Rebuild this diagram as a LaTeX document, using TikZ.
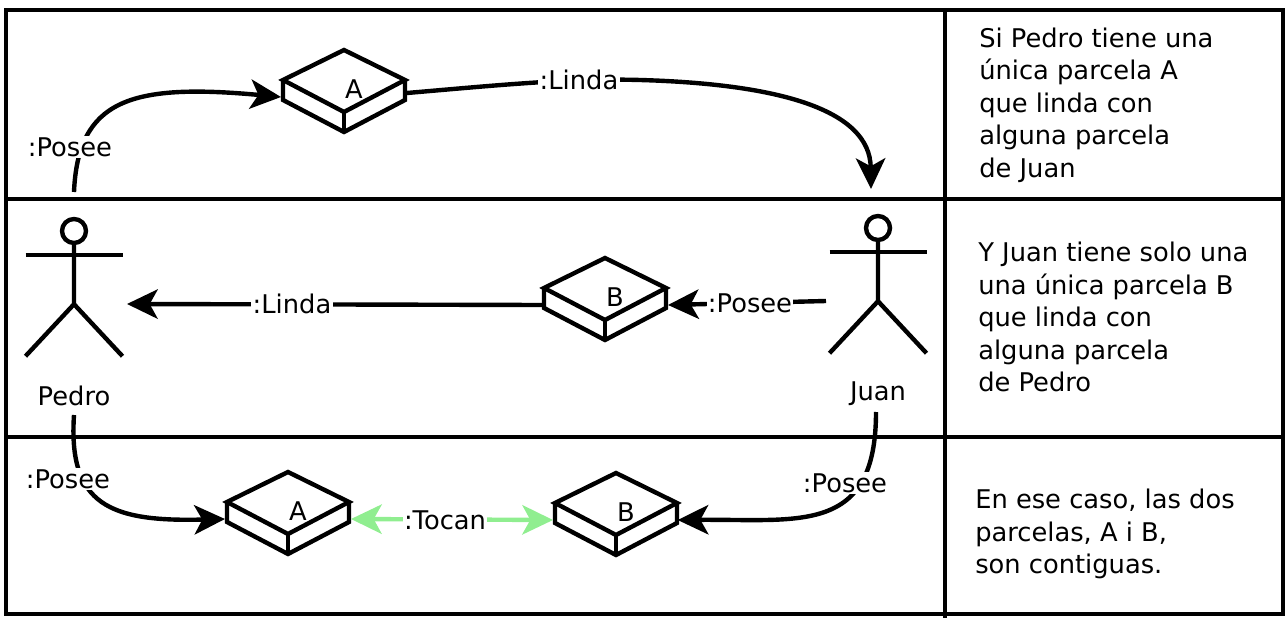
\documentclass[tikz,border=0pt]{standalone}
\usepackage{fontspec}
\setmainfont{DejaVu Sans}
\usetikzlibrary{arrows.meta}
\tikzset{
	marco/.style={line width=3.3pt},
	flecha/.style={line width=3.3pt, -{Stealth[length=23pt, width=22pt, inset=6pt]}},
	trazo/.style={line width=3.3pt},
	tocan/.style={line width=3.3pt, color=verdeclaro, {Stealth[length=23pt, width=22pt, inset=6pt]}-{Stealth[length=23pt, width=22pt, inset=6pt]}},
	etiqueta/.style={fill=white, inner sep=1pt, font=\fontsize{19.3pt}{23pt}\selectfont},
	texto/.style={anchor=west, align=left, inner sep=0pt, font=\fontsize{19.3pt}{24.4pt}\selectfont},
	parnodo/.style={minimum width=94.5pt, minimum height=1pt, inner sep=0pt, outer sep=0pt},
	cabeza/.style={circle, draw, line width=3.3pt, minimum size=18pt, inner sep=0pt}
}
\definecolor{verdeclaro}{HTML}{90EE90}
% parcela: name, x, y, text
\newcommand{\parcela}[4]{
	\node[parnodo] (#1) at (#2, #3) {};
	\draw[trazo] (#1.center) ++(0, -47) -- ++(61, 30) -- ++(-61, 32) -- ++(-61, -32) -- cycle;
	\draw[trazo] (#1.center) ++(-61, -17) -- ++(0, 20) -- ++(61, 32) -- ++(61, -32) -- ++(0, -20);
	\draw[trazo] (#1.center) ++(0, 15) -- ++(0, 20);
	\node[etiqueta, fill=none] (#1txt) at ([shift={(10, -8)}]#1.center) {#4};
}
% actor: name, x, y of the head, text y, text
\newcommand{\actor}[5]{
	\node[cabeza] (#1) at (#2, #3) {};
	\draw[trazo] (#1.south) -- ++(0, 59) coordinate (#1cad) -- ++(-48.5, 52);
	\draw[trazo] (#1cad) -- ++(48.5, 52);
	\draw[trazo] (#1.south) ++(-48.5, 10) -- ++(97, 0);
	\node[etiqueta, fill=none] (#1txt) at (#2, #4) {#5};
}
\begin{document}
\begin{tikzpicture}[x=0.75pt, y=-0.75pt]
	\useasboundingbox (0, 0) rectangle (1288, 623);

	\draw[marco] (6, 10) rectangle (1283, 614);
	\draw[marco] (6, 199) -- (1283, 199);
	\draw[marco] (6, 437) -- (1283, 437);
	\draw[marco] (945, 10) -- (945, 618);

	\actor{pedro}{74}{231}{396}{Pedro}
	\actor{juan}{878}{228}{394}{Juan}

	\parcela{parA}{344}{97}{A}
	\parcela{parB}{605}{305}{B}
	\parcela{contA}{288}{519}{A}
	\parcela{contB}{616}{520}{B}

	\coordinate (pedroArr) at (74, 192);
	\coordinate (juanArr) at (871, 189);
	\coordinate (pedroDer) at (127, 304);
	\coordinate (juanIzq) at (826, 301);
	\coordinate (pedroAba) at (74, 415);
	\coordinate (juanAba) at (876, 412);

	\draw[flecha] (pedroArr) .. controls (78, 100) and (130, 83) .. (parA.west);
	\draw[flecha] ([yshift=3pt]parA.east) .. controls (500, 85) and (570, 78) .. (640, 80) .. controls (780, 84) and (870, 110) .. (juanArr);
	\draw[flecha] (parB.west) -- (pedroDer);
	\draw[flecha] (juanIzq) -- (parB.east);
	\draw[flecha] (pedroAba) .. controls (68, 505) and (110, 522) .. (contA.west);
	\draw[flecha] (juanAba) .. controls (876, 535) and (800, 519) .. ([xshift=-1pt]contB.east);
	\draw[tocan] (contA.east) -- (contB.west);

	\node[etiqueta] (poseeA) at (70, 147) {:Posee};
	\node[etiqueta] (lindaA) at (579, 80) {:Linda};
	\node[etiqueta] (lindaB) at (292, 304) {:Linda};
	\node[etiqueta] (poseeB) at (750, 303) {:Posee};
	\node[etiqueta] (poseeC) at (68, 479) {:Posee};
	\node[etiqueta] (poseeD) at (845, 483) {:Posee};
	\node[etiqueta] (tocanC) at (445, 520) {:Tocan};

	\node[texto] (regla) at (979, 105) {Si Pedro tiene una\\única parcela A\\que linda con\\alguna parcela\\de Juan};
	\node[texto] (reglb) at (978, 317) {Y Juan tiene solo una\\una única parcela B\\que linda con\\alguna parcela\\de Pedro};
	\node[texto] (conc) at (975, 534) {En ese caso, las dos\\parcelas, A i B,\\son contiguas.};
\end{tikzpicture}
\end{document}
